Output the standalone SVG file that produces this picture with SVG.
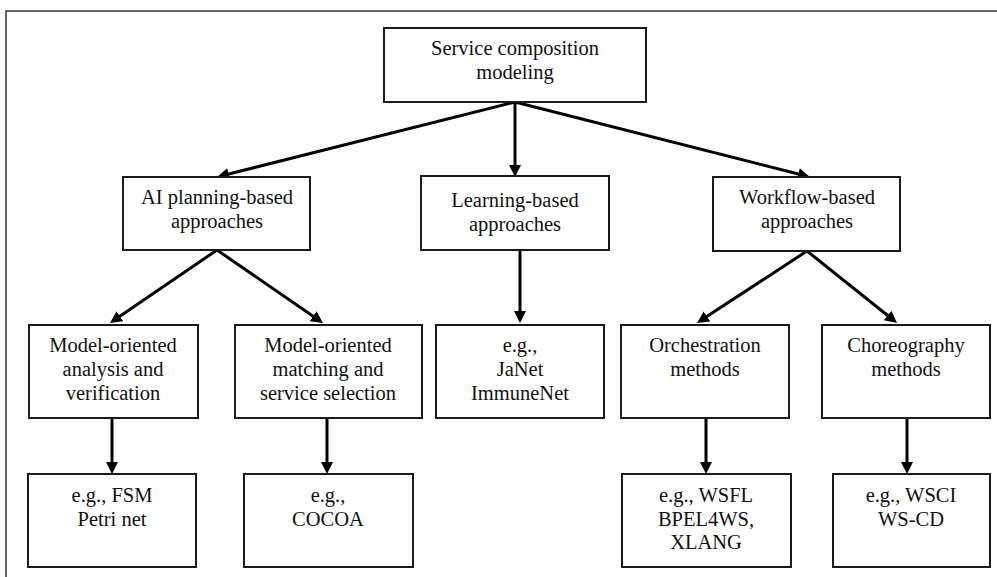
<svg xmlns="http://www.w3.org/2000/svg" width="997" height="577" viewBox="0 0 997 577">
<defs>
<marker id="ah" markerUnits="userSpaceOnUse" markerWidth="13" markerHeight="13" refX="4" refY="6" orient="auto">
<path d="M0,0 L12,6 L0,12 z" fill="#000"/>
</marker>
<style>
.box{fill:#fff;stroke:#1a1a1a;stroke-width:2}
.t{font-family:'Times New Roman','Liberation Serif','DejaVu Serif',serif;font-size:20.5px;fill:#111;text-anchor:middle}
.c{stroke:#000;stroke-width:3;fill:none;marker-end:url(#ah)}
</style>
</defs>
<rect width="997" height="577" fill="#fff"/>
<path d="M6,577 V11 H997" fill="none" stroke="#333" stroke-width="1.5"/>

<g id="connectors">
<line class="c" x1="515" y1="102" x2="224.8" y2="175"/>
<line class="c" x1="515" y1="102" x2="515" y2="169"/>
<line class="c" x1="515" y1="102" x2="802.2" y2="175"/>
<line class="c" x1="217" y1="250" x2="116.6" y2="318.5"/>
<line class="c" x1="217" y1="250" x2="316.4" y2="318.5"/>
<line class="c" x1="520" y1="250" x2="520" y2="315"/>
<line class="c" x1="807" y1="251" x2="703.7" y2="318.6"/>
<line class="c" x1="807" y1="251" x2="890.8" y2="318"/>
<line class="c" x1="112" y1="418" x2="112" y2="466"/>
<line class="c" x1="327" y1="418" x2="327" y2="466"/>
<line class="c" x1="706" y1="418" x2="706" y2="466"/>
<line class="c" x1="907" y1="418" x2="907" y2="466"/>
</g>

<g id="root">
<rect class="box" x="384" y="28" width="262" height="74"/>
<text class="t" x="515" y="55">Service composition</text>
<text class="t" x="515" y="79">modeling</text>
</g>
<g id="ai">
<rect class="box" x="123" y="177" width="187" height="73"/>
<text class="t" x="217" y="204">AI planning-based</text>
<text class="t" x="217" y="228">approaches</text>
</g>
<g id="learning">
<rect class="box" x="421" y="176" width="188" height="74"/>
<text class="t" x="515" y="207">Learning-based</text>
<text class="t" x="515" y="231">approaches</text>
</g>
<g id="workflow">
<rect class="box" x="713" y="177" width="187" height="74"/>
<text class="t" x="807" y="204">Workflow-based</text>
<text class="t" x="807" y="228">approaches</text>
</g>
<g id="analysis">
<rect class="box" x="29" y="325" width="169" height="93"/>
<text class="t" x="113" y="352">Model-oriented</text>
<text class="t" x="113" y="376">analysis and</text>
<text class="t" x="113" y="400">verification</text>
</g>
<g id="matching">
<rect class="box" x="235" y="325" width="187" height="93"/>
<text class="t" x="328" y="352">Model-oriented</text>
<text class="t" x="328" y="376">matching and</text>
<text class="t" x="328" y="400">service selection</text>
</g>
<g id="learning-eg">
<rect class="box" x="436" y="325" width="168" height="93"/>
<text class="t" x="520" y="352">e.g.,</text>
<text class="t" x="520" y="376">JaNet</text>
<text class="t" x="520" y="400">ImmuneNet</text>
</g>
<g id="orchestration">
<rect class="box" x="621" y="325" width="168" height="93"/>
<text class="t" x="705" y="352">Orchestration</text>
<text class="t" x="705" y="376">methods</text>
</g>
<g id="choreography">
<rect class="box" x="822" y="325" width="168" height="93"/>
<text class="t" x="906" y="352">Choreography</text>
<text class="t" x="906" y="376">methods</text>
</g>
<g id="fsm">
<rect class="box" x="28" y="474" width="168" height="93"/>
<text class="t" x="112" y="502">e.g., FSM</text>
<text class="t" x="112" y="526">Petri net</text>
</g>
<g id="cocoa">
<rect class="box" x="244" y="474" width="169" height="93"/>
<text class="t" x="328" y="502">e.g.,</text>
<text class="t" x="328" y="526">COCOA</text>
</g>
<g id="wsfl">
<rect class="box" x="622" y="474" width="169" height="93"/>
<text class="t" x="706" y="502">e.g., WSFL</text>
<text class="t" x="706" y="526">BPEL4WS,</text>
<text class="t" x="706" y="549">XLANG</text>
</g>
<g id="wsci">
<rect class="box" x="833" y="474" width="157" height="93"/>
<text class="t" x="911" y="502">e.g., WSCI</text>
<text class="t" x="911" y="526">WS-CD</text>
</g>
</svg>
